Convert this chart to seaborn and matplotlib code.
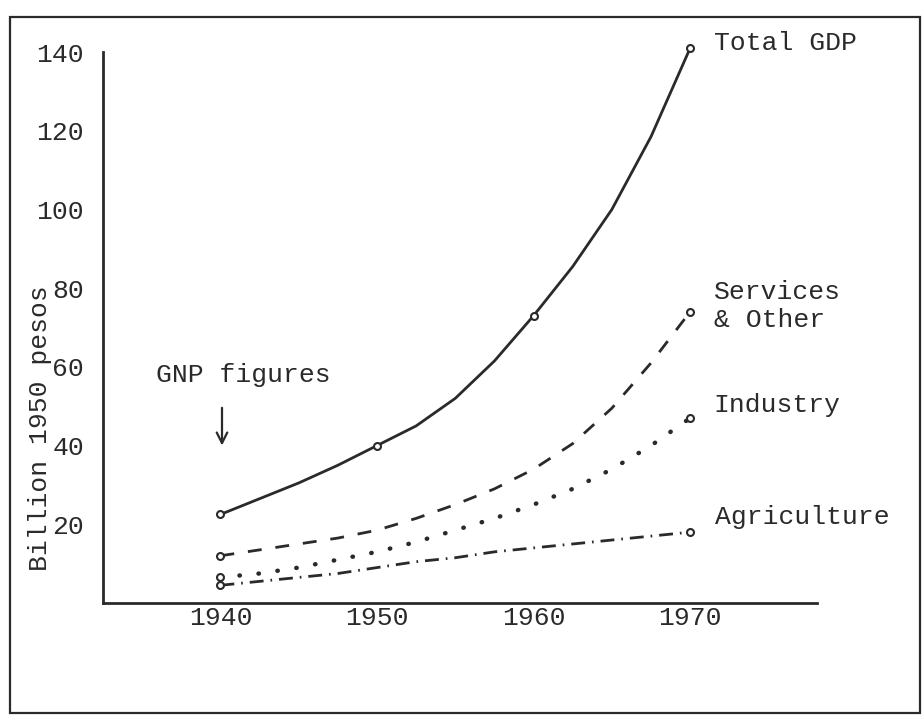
import numpy as np
import pandas as pd
import matplotlib.pyplot as plt
from matplotlib.patches import Rectangle
import seaborn as sns

# values (billion 1950 pesos)
years = [1940, 1942.5, 1945, 1947.5, 1950, 1952.5, 1955, 1957.5, 1960, 1962.5, 1965, 1967.5, 1970]
total_gdp = [22.5, 26.5, 30.5, 35, 40, 45, 52, 61.5, 73, 85.5, 100, 118.5, 141]
services = [12, 13.5, 15, 16.5, 18.5, 21.5, 25, 29, 34, 40.5, 49.5, 61, 74]
industry = [6.5, 7.5, 9, 11, 13, 15.5, 18.5, 21.5, 25, 29, 34, 40, 47]
agriculture = [4.5, 5.5, 6.5, 7.5, 9, 10.5, 11.5, 13, 14, 15, 16, 17, 18]
decades = [1940, 1950, 1960, 1970]
yticks = [20, 40, 60, 80, 100, 120, 140]

ink = "#2a2a2a"

sns.set_style("white")
plt.rcParams["font.family"] = ["Liberation Mono", "DejaVu Sans"]
plt.rcParams["font.size"] = 19

df = pd.DataFrame({"year": years, "gdp": total_gdp, "services": services,
                   "industry": industry, "agriculture": agriculture})

fig = plt.figure(figsize=(9.24, 7.19), dpi=100)
ax = fig.add_axes([103 / 924, 1 - 603 / 719, (817 - 103) / 924, (603 - 52) / 719])

# total GDP: solid curve with small circles at the decades
sns.lineplot(data=df, x="year", y="gdp", ax=ax, color=ink, linewidth=2.0, clip_on=False)
gdp_dec = df[df["year"].isin(decades)]
ax.plot(gdp_dec["year"], gdp_dec["gdp"], "o", ms=5, mfc="white", mec=ink, mew=1.5, clip_on=False)

# components
sns.lineplot(data=df, x="year", y="services", ax=ax, color=ink, linewidth=2.0,
             linestyle=(0, (5, 5)))
sns.lineplot(data=df, x="year", y="industry", ax=ax, color=ink, linewidth=3.2,
             linestyle=(0, (0.1, 4.2)), dash_capstyle="round")
sns.lineplot(data=df, x="year", y="agriculture", ax=ax, color=ink, linewidth=2.0,
             linestyle=(0, (5, 2.5, 0.6, 2.5)))
ends = df.iloc[[0, -1]]
for col in ["services", "industry", "agriculture"]:
    ax.plot(ends["year"], ends[col], "o", ms=5, mfc="white", mec=ink, mew=1.5)

# series labels at the right
ax.text(1971.5, 142.3, "Total GDP", ha="left", va="center", color=ink, clip_on=False)
ax.text(1971.5, 75.5, "Services\n& Other", ha="left", va="center", color=ink, linespacing=1.2)
ax.text(1971.5, 50.3, "Industry", ha="left", va="center", color=ink)
ax.text(1971.6, 21.8, "Agriculture", ha="left", va="center", color=ink)

# GNP note with arrow
ax.text(1935.9, 57.9, "GNP figures", ha="left", va="center", color=ink)
ax.annotate("", xy=(1940.1, 39.3), xytext=(1940.1, 50.3),
            arrowprops=dict(arrowstyle="->", color=ink, lw=1.6))

ax.set_xlim(1932.5, 1978.1)
ax.set_ylim(0, 140)
ax.set_xticks(decades)
ax.set_xticklabels([str(d) for d in decades])
ax.set_yticks(yticks)
ax.tick_params(axis="x", length=0, pad=2, labelcolor=ink)
ax.tick_params(axis="y", direction="inout", length=9, width=1.5, color=ink, pad=9, labelcolor=ink)
ax.set_xlabel("")
ax.set_ylabel("")
for side in ["top", "right"]:
    ax.spines[side].set_visible(False)
for side in ["left", "bottom"]:
    ax.spines[side].set_color(ink)
    ax.spines[side].set_linewidth(2.0)
ax.patch.set_alpha(0)

fig.text(40 / 924, 1 - 428 / 719, "Billion 1950 pesos", rotation=90,
         ha="center", va="center", color=ink)

# page frame
fig.add_artist(Rectangle((10 / 924, 6 / 719), 910 / 924, (713 - 17) / 719,
                         transform=fig.transFigure, fill=False, ec=ink, lw=1.6))

plt.savefig("out.png", dpi=100)
